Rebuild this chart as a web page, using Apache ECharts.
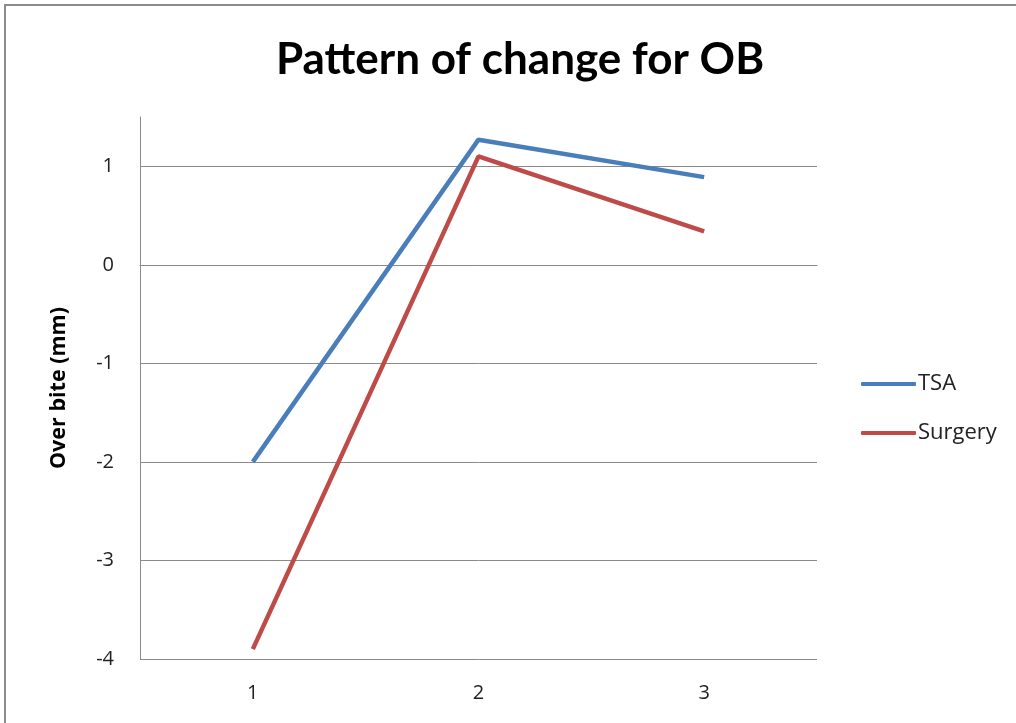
<!DOCTYPE html>
<html>
<head>
<meta charset="utf-8">
<script src="https://cdn.jsdelivr.net/npm/echarts@6/dist/echarts.min.js"></script>
<style>
html,body{margin:0;padding:0;background:#fff;}
#chart{width:1016px;height:723px;}
</style>
</head>
<body>
<div id="chart"></div>
<script>
const categories = ['1', '2', '3'];
const tsaValues = [-2.0, 1.27, 0.89];
const surgeryValues = [-3.9, 1.1, 0.34];
const yTicks = [-4, -3, -2, -1, 0, 1];
const seriesNames = ['TSA', 'Surgery'];

const chart = echarts.init(document.getElementById('chart'));
const titleFont = 'Lato, sans-serif';
const font = '"Open Sans", sans-serif';
const gridColors = yTicks.map(() => '#8a8a8a').concat(['rgba(0,0,0,0)']);
chart.setOption({
  animation: false,
  title: {
    text: 'Pattern of change for OB',
    left: 515, top: 33, textAlign: 'center',
    textStyle: { fontFamily: titleFont, fontSize: 44, fontWeight: 'bold', color: '#000' }
  },
  graphic: [{
    type: 'rect', shape: { x: 5, y: 5, width: 1200, height: 900 },
    style: { fill: 'none', stroke: '#8c8c8c', lineWidth: 2 }, silent: true
  }],
  legend: {
    orient: 'vertical', left: 856, top: 368,
    itemWidth: 55, itemHeight: 4, itemGap: 27,
    icon: 'roundRect',
    textStyle: { fontFamily: font, fontSize: 22, color: '#222', padding: [0, 0, 0, -3] },
    data: seriesNames
  },
  grid: { left: 140, right: 199, top: 117, bottom: 64 },
  xAxis: {
    type: 'category', data: categories, boundaryGap: true,
    axisLine: { lineStyle: { color: '#8a8a8a', width: 1 } },
    axisTick: { show: false },
    axisLabel: { fontFamily: font, fontSize: 20, color: '#222', margin: 24 }
  },
  yAxis: {
    type: 'value', min: -4, max: 1.5, interval: 1,
    name: 'Over bite (mm)', nameLocation: 'middle', nameGap: 70,
    nameTextStyle: { fontFamily: font, fontSize: 21.5, fontWeight: 'bold', color: '#000' },
    axisLine: { show: true, lineStyle: { color: '#8a8a8a', width: 1 } },
    axisTick: { show: false },
    axisLabel: {
      fontFamily: font, fontSize: 20, color: '#222', margin: 26,
      formatter: v => (yTicks.indexOf(v) >= 0 ? String(v) : '')
    },
    splitLine: { show: true, lineStyle: { color: gridColors, width: 1 } }
  },
  series: [
    { name: seriesNames[0], type: 'line', data: tsaValues, symbol: 'none',
      lineStyle: { color: '#4a7ebb', width: 4.5 }, itemStyle: { color: '#4a7ebb' } },
    { name: seriesNames[1], type: 'line', data: surgeryValues, symbol: 'none',
      lineStyle: { color: '#be4b48', width: 4.5 }, itemStyle: { color: '#be4b48' } }
  ]
});
</script>
</body>
</html>
